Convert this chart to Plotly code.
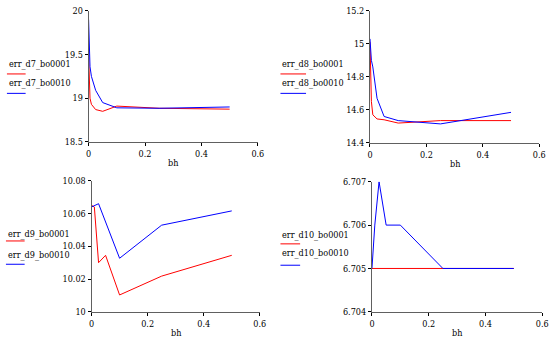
import plotly.graph_objects as go

W, H = 559, 345

# ---- data ----
x_d7 = [0, 0.005, 0.01, 0.025, 0.05, 0.1, 0.25, 0.5]
d7_bo0001 = [19.5, 19.0, 18.93, 18.87, 18.85, 18.91, 18.885, 18.875]
d7_bo0010 = [19.9, 19.36, 19.25, 19.09, 18.95, 18.89, 18.885, 18.9]

x_d8 = [0, 0.002, 0.005, 0.01, 0.025, 0.05, 0.1, 0.25, 0.5]
d8_bo0001 = [15.01, 14.81, 14.65, 14.57, 14.545, 14.54, 14.52, 14.535, 14.535]
d8_bo0010 = [15.03, 14.96, 14.90, 14.86, 14.67, 14.56, 14.535, 14.515, 14.585]

x_d9 = [0, 0.01, 0.025, 0.05, 0.1, 0.25, 0.5]
d9_bo0001 = [10.065, 10.064, 10.030, 10.0345, 10.0103, 10.0218, 10.0345]
x_d9b = [0, 0.025, 0.1, 0.25, 0.5]
d9_bo0010 = [10.064, 10.066, 10.0327, 10.0529, 10.0616]

x_d10 = [0, 0.01, 0.025, 0.05, 0.1, 0.25, 0.5]
d10_bo0001 = [6.705, 6.705, 6.705, 6.705, 6.705, 6.705, 6.705]
d10_bo0010 = [6.705, 6.706, 6.707, 6.706, 6.706, 6.705, 6.705]

x_ticks = [0, 0.2, 0.4, 0.6]
y_ticks = [
    [18.5, 19, 19.5, 20],
    [14.4, 14.6, 14.8, 15, 15.2],
    [10, 10.02, 10.04, 10.06, 10.08],
    [6.704, 6.705, 6.706, 6.707],
]
y_ticktext = [
    ["18.5", "19", "19.5", "20"],
    ["14.4", "14.6", "14.8", "15", "15.2"],
    ["10", "10.02", "10.04", "10.06", "10.08"],
    ["6.704", "6.705", "6.706", "6.707"],
]
names = [
    ("err_d7_bo0001", "err_d7_bo0010"),
    ("err_d8_bo0001", "err_d8_bo0010"),
    ("err_d9_bo0001", "err_d9_bo0010"),
    ("err_d10_bo0001", "err_d10_bo0010"),
]
series = [
    ((x_d7, d7_bo0001), (x_d7, d7_bo0010)),
    ((x_d8, d8_bo0001), (x_d8, d8_bo0010)),
    ((x_d9, d9_bo0001), (x_d9b, d9_bo0010)),
    ((x_d10, d10_bo0001), (x_d10, d10_bo0010)),
]

# panel pixel boxes: (left, right, top, bottom)
boxes = [(87, 259, 6, 141), (373, 545, 6, 142), (90, 261, 181, 316), (375, 548, 182, 316)]
legend_x = [4, 282, 3, 282]
legend_y = [(61, 71, 81, 91), (61, 71, 81, 91), (236, 243, 258, 267), (237, 246, 256, 268)]
legend_len = [19, 26, 19, 20]

FONT = "DejaVu Serif Condensed, DejaVu Serif"
TFONT = dict(family=FONT, size=9, color="#000")
fig = go.Figure()
annotations = []
shapes = []
for i in range(4):
    l, r, t, b = boxes[i]
    xa = "xaxis" if i == 0 else f"xaxis{i+1}"
    ya = "yaxis" if i == 0 else f"yaxis{i+1}"
    xr = "x" if i == 0 else f"x{i+1}"
    yr = "y" if i == 0 else f"y{i+1}"
    (xr1, yv1), (xr2, yv2) = series[i]
    fig.add_trace(go.Scatter(x=xr1, y=yv1, mode="lines", line=dict(color="#ff0000", width=1),
                             xaxis=xr, yaxis=yr, showlegend=False, name=names[i][0]))
    fig.add_trace(go.Scatter(x=xr2, y=yv2, mode="lines", line=dict(color="#0000ff", width=1),
                             xaxis=xr, yaxis=yr, showlegend=False, name=names[i][1]))
    fig.update_layout({
        xa: dict(domain=[l / W, r / W], range=[0, 0.6], anchor=yr, tickvals=x_ticks,
                 ticktext=["0", "0.2", "0.4", "0.6"], showgrid=False, zeroline=False,
                 showline=True, linecolor="#606060", linewidth=1, ticks="outside",
                 ticklen=3, tickcolor="#000", tickfont=TFONT),
        ya: dict(domain=[1 - b / H, 1 - t / H], range=[y_ticks[i][0], y_ticks[i][-1]], anchor=xr,
                 tickvals=y_ticks[i], ticktext=y_ticktext[i], showgrid=False, zeroline=False,
                 showline=True, linecolor="#606060", linewidth=1, ticks="outside",
                 ticklen=3, tickcolor="#000", tickfont=TFONT),
    })
    # x label
    annotations.append(dict(text="bh", xref="paper", yref="paper", x=(l + (r - l) / 2) / W,
                            y=1 - (b + 22) / H, xanchor="center", yanchor="middle", showarrow=False,
                            font=TFONT))
    # legend
    lx = legend_x[i]
    ty1, ly1, ty2, ly2 = legend_y[i]
    for txt, ty, ly, col in ((names[i][0], ty1, ly1, "#ff0000"), (names[i][1], ty2, ly2, "#0000ff")):
        annotations.append(dict(text=txt, xref="paper", yref="paper", x=lx / W, y=1 - ty / H,
                                xanchor="left", yanchor="middle", showarrow=False, font=TFONT))
        shapes.append(dict(type="line", xref="paper", yref="paper", x0=lx / W, x1=(lx + legend_len[i]) / W,
                           y0=1 - ly / H, y1=1 - ly / H, line=dict(color=col, width=1)))

fig.update_layout(width=W, height=H, margin=dict(l=0, r=0, t=0, b=0),
                  paper_bgcolor="white", plot_bgcolor="white",
                  annotations=annotations, shapes=shapes)
fig.write_html("out.html")
